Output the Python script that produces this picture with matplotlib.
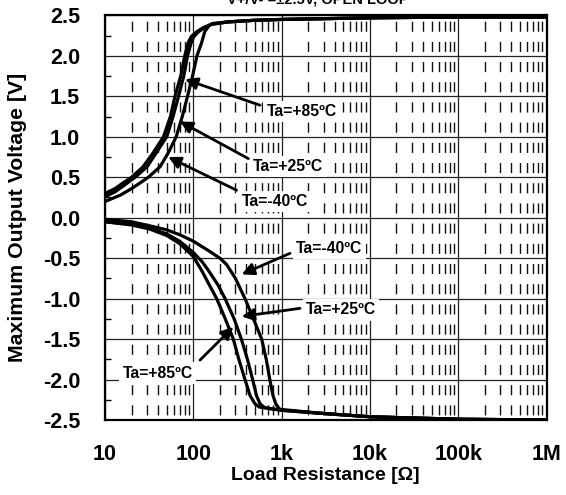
import matplotlib
matplotlib.use('Agg')
import matplotlib.pyplot as plt
from matplotlib.ticker import MultipleLocator, LogLocator, NullFormatter

plt.rcParams['font.family'] = ['Liberation Sans', 'DejaVu Sans']
plt.rcParams['font.weight'] = 'bold'

# ---------------- data ----------------
title_text = "V+/V- =±2.5V, OPEN LOOP"
x_label = "Load Resistance [Ω]"
y_label = "Maximum Output Voltage [V]"
x_ticks = [10, 100, 1e3, 1e4, 1e5, 1e6]
x_tick_labels = ["10", "100", "1k", "10k", "100k", "1M"]
y_ticks = [2.5, 2.0, 1.5, 1.0, 0.5, 0.0, -0.5, -1.0, -1.5, -2.0, -2.5]
y_tick_labels = ["2.5", "2.0", "1.5", "1.0", "0.5", "0.0", "-0.5", "-1.0", "-1.5", "-2.0", "-2.5"]

# positive swing
r_pos_85 = [10, 13, 16, 20, 27, 35, 46, 55, 62, 72, 80, 88, 95, 110, 130, 160, 250, 500, 1000, 1e4, 1e5, 1e6]
v_pos_85 = [0.30, 0.36, 0.43, 0.50, 0.63, 0.80, 1.00, 1.25, 1.50, 1.75, 2.00, 2.17, 2.24, 2.30, 2.35, 2.39, 2.42, 2.44, 2.45, 2.47, 2.48, 2.48]
r_pos_25 = [10, 13, 16, 22, 30, 38, 50, 59, 68, 78, 86, 95, 102, 115, 135, 160, 250, 500, 1000, 1e4, 1e5, 1e6]
v_pos_25 = [0.26, 0.32, 0.39, 0.50, 0.63, 0.80, 1.00, 1.25, 1.50, 1.75, 2.00, 2.17, 2.24, 2.30, 2.35, 2.39, 2.42, 2.44, 2.45, 2.47, 2.48, 2.48]
r_pos_m40 = [10, 15, 20, 25, 31, 42, 52, 64, 75, 86, 98, 110, 124, 135, 150, 165, 250, 500, 1000, 1e4, 1e5, 1e6]
v_pos_m40 = [0.20, 0.28, 0.36, 0.43, 0.50, 0.63, 0.80, 1.00, 1.25, 1.50, 1.75, 2.00, 2.16, 2.30, 2.37, 2.40, 2.42, 2.44, 2.45, 2.47, 2.48, 2.48]

# negative swing
r_neg_85 = [10, 20, 32, 50, 70, 84, 100, 124, 150, 184, 230, 284, 330, 385, 440, 500, 560, 640, 1000, 3000, 1e4, 1e5, 1e6]
v_neg_85 = [-0.05, -0.09, -0.14, -0.22, -0.32, -0.40, -0.48, -0.65, -0.82, -1.00, -1.25, -1.50, -1.76, -2.00, -2.20, -2.30, -2.34, -2.35, -2.38, -2.42, -2.46, -2.49, -2.50]
r_neg_25 = [10, 20, 32, 50, 70, 100, 125, 148, 190, 229, 290, 350, 410, 470, 520, 570, 630, 700, 1000, 3000, 1e4, 1e5, 1e6]
v_neg_25 = [-0.05, -0.08, -0.13, -0.20, -0.29, -0.43, -0.54, -0.65, -0.83, -1.00, -1.25, -1.50, -1.75, -2.00, -2.20, -2.30, -2.34, -2.355, -2.38, -2.42, -2.46, -2.49, -2.50]
r_neg_m40 = [10, 20, 32, 50, 70, 100, 155, 200, 239, 300, 385, 480, 595, 670, 735, 800, 860, 930, 1000, 3000, 1e4, 1e5, 1e6]
v_neg_m40 = [-0.02, -0.05, -0.10, -0.15, -0.21, -0.29, -0.42, -0.50, -0.58, -0.75, -1.00, -1.25, -1.50, -1.75, -2.00, -2.20, -2.30, -2.36, -2.37, -2.42, -2.46, -2.49, -2.50]

# annotations: label, text position, arrow tail, arrow head
ann_labels = ["Ta=+85ºC", "Ta=+25ºC", "Ta=-40ºC", "Ta=-40ºC", "Ta=+25ºC", "Ta=+85ºC"]
ann_text_xy = [(1690, 1.31), (1190, 0.63), (841, 0.20), (3460, -0.38), (4690, -1.14), (39.4, -1.92)]
ann_tail_xy = [(569, 1.39), (420, 0.73), (309, 0.34), (1245, -0.44), (1615, -1.12), (119, -1.76)]
ann_head_xy = [(80.5, 1.71), (70.6, 1.19), (52, 0.75), (353, -0.70), (353, -1.22), (284, -1.35)]

# ---------------- plot ----------------
fig = plt.figure(figsize=(5.66, 4.95), dpi=100)
ax = fig.add_axes([105 / 566, 1 - 420 / 495, 441.5 / 566, 404.6 / 495])

ax.set_xscale('log')
ax.set_xlim(10, 1e6)
ax.set_ylim(-2.5, 2.5)

lw_c = 2.3
for r, v in [(r_pos_85, v_pos_85), (r_pos_25, v_pos_25), (r_pos_m40, v_pos_m40),
             (r_neg_85, v_neg_85), (r_neg_25, v_neg_25), (r_neg_m40, v_neg_m40)]:
    ax.plot(r, v, color='black', lw=lw_c, solid_capstyle='round', solid_joinstyle='round', zorder=3)

ax.set_xticks(x_ticks, x_tick_labels)
ax.set_yticks(y_ticks, y_tick_labels)
ax.xaxis.set_minor_locator(LogLocator(base=10, subs=[2, 3, 4, 5, 6, 7, 8, 9], numticks=20))
ax.xaxis.set_minor_formatter(NullFormatter())
ax.yaxis.set_minor_locator(MultipleLocator(0.25))

ax.grid(which='major', axis='both', color='#222222', lw=0.9, zorder=1)
ax.grid(which='minor', axis='x', color='#111111', lw=1.0, linestyle=(10.9, (7.27, 7.27)), zorder=1)

ax.tick_params(which='major', length=0, labelsize=15.5)
ax.tick_params(axis='y', which='major', pad=18)
ax.tick_params(axis='x', which='major', pad=17)
ax.tick_params(axis='x', which='minor', length=0)
ax.tick_params(axis='y', which='minor', direction='in', length=4, width=1)
for lab in ax.get_xticklabels() + ax.get_yticklabels():
    lab.set_fontweight('bold')

for s in ax.spines.values():
    s.set_linewidth(1.6)

ax.set_xlabel(x_label, fontsize=14, fontweight='bold')
ax.set_ylabel(y_label, fontsize=15.3, fontweight='bold')
ax.xaxis.set_label_coords(0.5, (420 - 467) / 404.6)
ax.yaxis.set_label_coords((27 - 105) / 441.5, 0.5)

for lab, txy, tail, head in zip(ann_labels, ann_text_xy, ann_tail_xy, ann_head_xy):
    ax.text(txy[0], txy[1], lab, fontsize=11.3, fontweight='bold', ha='center', va='center',
            bbox=dict(boxstyle='square,pad=0.2', fc='white', ec='none'), zorder=2)
    ax.annotate('', xy=head, xytext=tail,
                arrowprops=dict(arrowstyle='-|>', color='black', lw=2.0, mutation_scale=18,
                                shrinkA=0, shrinkB=0), zorder=4)

fig.text(318 / 566, 1 - 4 / 495, title_text, ha='center', va='baseline', fontsize=10.5, fontweight='bold')

fig.savefig('out.png', dpi=100)
